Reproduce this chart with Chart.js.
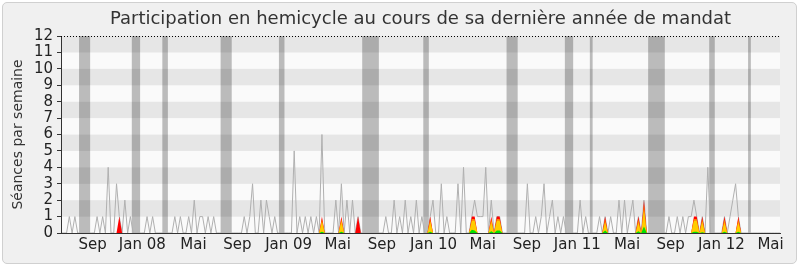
<!DOCTYPE html>
<html lang="fr">
<head>
<meta charset="utf-8">
<title>Participation en hemicycle</title>
<script src="https://cdn.jsdelivr.net/npm/chart.js@4.4.1/dist/chart.umd.min.js"></script>
<style>
  html, body { margin: 0; padding: 0; background: #ffffff; }
  #cadre { position: relative; width: 800px; height: 267px; }
  #fond { position: absolute; left: 2px; top: 2px; width: 793px; height: 260px; background: #f0f0f0; border: 1px solid #d0d0d0; border-radius: 5px; }
  #graphe { position: absolute; left: 0; top: 0; }
</style>
</head>
<body>
<div id="cadre">
  <div id="fond"></div>
  <canvas id="graphe" width="800" height="267"></canvas>
</div>
<script>
var titre = 'Participation en hemicycle au cours de sa dernière année de mandat';

// une valeur par semaine, semaine 0 = juin 2007, semaine 259 = mai 2012
var seances = [
  0,0,0,1,0,1,0,0,0,0, 0,0,0,1,0,1,0,4,0,0,
  3,1,0,2,0,1,0,0,0,0, 0,1,0,1,0,0,0,0,0,0,
  0,1,0,1,0,0,1,0,2,0, 1,1,0,1,0,1,0,0,0,0,
  0,0,0,0,0,0,1,0,1,3, 0,0,2,0,2,1,0,1,0,0,
  0,0,0,0,5,0,1,0,1,0, 1,0,1,0,6,0,0,0,0,2,
  0,3,0,2,0,2,0,1,0,0, 0,0,0,0,0,0,0,1,0,0,
  2,0,1,0,2,0,1,0,2,0, 1,0,0,1,2,0,0,3,0,1,
  0,0,0,3,0,4,0,0,1,2, 1,1,1,4,0,2,0,1,1,0,
  0,0,0,0,0,0,0,0,3,0, 0,1,0,1,3,0,1,2,0,1,
  0,1,0,0,0,0,0,2,0,1, 0,0,0,0,1,0,1,0,1,0,
  0,2,0,2,0,1,2,0,1,0, 2,0,0,0,0,0,0,0,0,1,
  0,0,1,0,1,0,1,1,2,1, 0,1,0,4,0,0,0,0,0,1,
  0,1,2,3,1,0,0,0,0,0, 0,0,0,0,0,0,0,0,0,0
];

// semaines de vacances parlementaires
var vacances = [7, 8, 9, 10, 26, 27, 28, 37, 38, 58, 59, 60, 61, 79, 80,
  109, 110, 111, 112, 113, 114, 131, 132, 161, 162, 163, 164, 182, 183, 184, 191,
  212, 213, 214, 215, 216, 217, 234, 235, 248];

// [semaine, valeur]
var rouge = [[21, 1], [94, 1], [101, 1], [107, 1], [133, 1], [148, 1], [149, 1], [155, 1],
  [157, 1], [158, 1], [196, 1], [208, 1], [210, 2], [228, 1], [229, 1], [231, 1], [239, 1], [244, 1]];
var orange = [[94, 0.85], [101, 0.85], [133, 0.85], [148, 0.85], [149, 0.85], [155, 0.85],
  [157, 0.85], [158, 0.85], [196, 0.85], [208, 0.85], [210, 1.75], [228, 0.85], [229, 0.85], [231, 0.85], [239, 0.85], [244, 0.85]];
var jaune = [[94, 0.7], [101, 0.7], [133, 0.7], [148, 0.75], [149, 0.75], [155, 0.7],
  [157, 0.75], [158, 0.75], [196, 0.65], [208, 0.65], [210, 1.45], [228, 0.75], [229, 0.75], [231, 0.7], [239, 0.65], [244, 0.65]];
var vert = [[94, 0.08], [101, 0.08], [133, 0.08], [148, 0.2], [149, 0.15], [155, 0.1],
  [157, 0.15], [158, 0.15], [196, 0.15], [208, 0.1], [210, 0.4], [228, 0.08], [229, 0.08], [231, 0.05], [239, 0.08], [244, 0.08]];

var moisLabels = ['Sep', 'Jan 08', 'Mai', 'Sep', 'Jan 09', 'Mai', 'Sep', 'Jan 10', 'Mai', 'Sep', 'Jan 11', 'Mai', 'Sep', 'Jan 12', 'Mai'];
var moisSemaines = [11.4, 29.3, 47.7, 63.5, 82.0, 99.7, 115.6, 134.2, 151.9, 167.8, 186.0, 203.9, 219.6, 237.9, 255.6];

function serie(paires) {
  var d = seances.map(function(v, i) { return { x: i, y: 0 }; });
  paires.forEach(function(p) { d[p[0]].y = p[1]; });
  return d;
}

function aire(label, paires, couleur, ordre) {
  return {
    label: label,
    data: serie(paires),
    backgroundColor: couleur,
    borderColor: 'rgba(0,0,0,0)',
    borderWidth: 0,
    fill: 'origin',
    pointRadius: 0,
    tension: 0,
    order: ordre
  };
}

var fondPlugin = {
  id: 'fond',
  beforeDraw: function(chart) {
    var ctx = chart.ctx, a = chart.chartArea, y = chart.scales.y;
    ctx.save();
    for (var v = 0; v < 12; v++) {
      ctx.fillStyle = (v % 2 === 1) ? '#e6e6e6' : '#fafafa';
      var haut = y.getPixelForValue(v + 1), bas = y.getPixelForValue(v);
      ctx.fillRect(a.left, haut, a.right - a.left, bas - haut);
    }
    ctx.restore();
  },
  afterDraw: function(chart) {
    var ctx = chart.ctx, a = chart.chartArea;
    ctx.save();
    ctx.strokeStyle = '#000';
    ctx.lineWidth = 1;
    ctx.setLineDash([1, 2]);
    ctx.beginPath();
    ctx.moveTo(a.left, a.top + 0.5);
    ctx.lineTo(a.right, a.top + 0.5);
    ctx.stroke();
    ctx.setLineDash([]);
    ctx.font = '18px "DejaVu Sans"';
    ctx.fillStyle = '#333';
    ctx.textAlign = 'center';
    ctx.textBaseline = 'middle';
    ctx.fillText(titre, (a.left + a.right) / 2, 19);
    ctx.restore();
  }
};

Chart.defaults.font.family = '"DejaVu Sans", Verdana, sans-serif';
Chart.defaults.font.size = 15;

new Chart(document.getElementById('graphe'), {
  type: 'line',
  data: {
    datasets: [
      {
        label: 'Vacances',
        data: seances.map(function(v, i) { return { x: i, y: vacances.indexOf(i) >= 0 ? 12 : 0 }; }),
        backgroundColor: 'rgba(0,0,0,0.25)',
        borderColor: 'rgba(0,0,0,0)',
        borderWidth: 0,
        stepped: 'middle',
        fill: 'origin',
        pointRadius: 0,
        order: 6
      },
      {
        label: 'Séances',
        data: seances.map(function(v, i) { return { x: i, y: v }; }),
        borderColor: '#b0b0b0',
        borderWidth: 1,
        pointRadius: 0,
        fill: false,
        tension: 0,
        order: 5
      },
      aire('rouge', rouge, '#ff0000', 4),
      aire('orange', orange, '#ff8000', 3),
      aire('jaune', jaune, '#ffcc00', 2),
      aire('vert', vert, '#00e000', 1)
    ]
  },
  options: {
    responsive: false,
    animation: false,
    devicePixelRatio: 1,
    layout: { padding: { top: 36, right: 20, bottom: 0, left: 0 } },
    plugins: { legend: { display: false }, tooltip: { enabled: false } },
    scales: {
      x: {
        type: 'linear',
        min: 0,
        max: 259,
        offset: false,
        grid: { display: false, drawTicks: false },
        border: { color: '#333', z: 1 },
        afterBuildTicks: function(scale) {
          scale.ticks = moisSemaines.map(function(v) { return { value: v }; });
        },
        afterFit: function(scale) { scale.height = 34; },
        ticks: {
          autoSkip: false,
          maxRotation: 0,
          padding: 3,
          color: '#222',
          callback: function(value, index) { return moisLabels[index]; }
        }
      },
      y: {
        min: 0,
        max: 12,
        afterFit: function(scale) { scale.width = 61; },
        grid: { drawOnChartArea: false, tickLength: 4, color: '#333' },
        border: { color: '#333', z: 1 },
        ticks: { stepSize: 1, autoSkip: false, padding: 4, color: '#222' },
        title: { display: true, text: 'Séances par semaine', color: '#333', font: { size: 14 }, padding: { top: 10, bottom: 0 } }
      }
    }
  },
  plugins: [fondPlugin]
});
</script>
</body>
</html>
